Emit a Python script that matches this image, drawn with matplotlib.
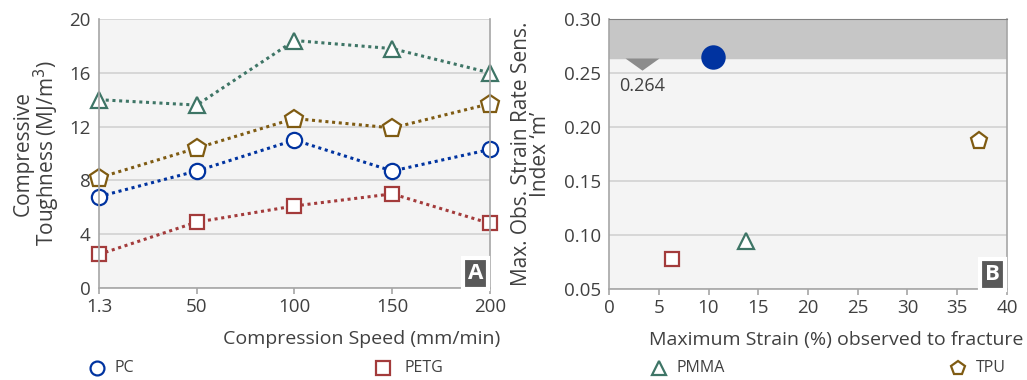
import matplotlib.pyplot as plt
from matplotlib.path import Path
from matplotlib.lines import Line2D

plt.rcParams["font.family"] = ["Open Sans", "DejaVu Sans"]

# panel A: compressive toughness vs. compression speed
speeds = ["1.3", "50", "100", "150", "200"]
pc_tough = [6.8, 8.7, 11.0, 8.7, 10.3]
petg_tough = [2.5, 4.9, 6.1, 7.0, 4.8]
pmma_tough = [14.0, 13.6, 18.4, 17.8, 16.0]
tpu_tough = [8.2, 10.4, 12.6, 11.9, 13.7]

# panel B: max strain vs. strain rate sensitivity index
strain = {"PC": 10.5, "PETG": 6.3, "PMMA": 13.8, "TPU": 37.2}
m_index = {"PC": 0.265, "PETG": 0.078, "PMMA": 0.094, "TPU": 0.187}
m_threshold = 0.264
threshold_x = 3.3

names = ["PC", "PETG", "PMMA", "TPU"]
colors = {"PC": "#0033A0", "PETG": "#A33B3B", "PMMA": "#3E7566", "TPU": "#7F5B12"}
markers = {"PC": "o", "PETG": "s", "PMMA": "^", "TPU": "p"}
sizes = {"PC": 11, "PETG": 10.5, "PMMA": 12, "TPU": 13.5}

TXT = "#404040"
BG = "#F4F4F4"
GRID = "#D4D4D4"
SPINE = "#A6A6A6"

fig = plt.figure(figsize=(10.27, 3.8), dpi=100)
ax1 = fig.add_axes([0.0964, 0.2421, 0.3807, 0.7079])
ax2 = fig.add_axes([0.593, 0.2395, 0.3875, 0.7105])


def style(ax):
    ax.set_facecolor(BG)
    ax.grid(axis="y", color=GRID, linewidth=1.3)
    ax.set_axisbelow(True)
    for side in ["left", "bottom", "right"]:
        ax.spines[side].set_color(SPINE)
        ax.spines[side].set_linewidth(1.2)
    ax.spines["top"].set_visible(False)
    ax.tick_params(colors=SPINE, labelcolor=TXT, labelsize=13.5, length=4, width=1.2)
    ax.tick_params(axis="y", length=0, pad=6)
    ax.tick_params(axis="x", direction="out", pad=3)


style(ax1)
x = list(range(len(speeds)))
for name, vals in zip(names, [pc_tough, petg_tough, pmma_tough, tpu_tough]):
    ax1.plot(x, vals, linestyle=(0, (1, 1.2)), linewidth=2.2, color=colors[name],
             marker=markers[name], markersize=sizes[name], markerfacecolor="white",
             markeredgecolor=colors[name], markeredgewidth=1.6, clip_on=False)
ax1.set_xlim(0, 4)
ax1.set_ylim(0, 20)
ax1.set_xticks(x)
ax1.set_xticklabels(speeds)
ax1.set_yticks([0, 4, 8, 12, 16, 20])
ax1.set_xlabel("Compression Speed (mm/min)", fontsize=14, color=TXT, ha="right")
ax1.xaxis.set_label_coords(1.026, -0.155)
ax1.set_ylabel("Compressive\nToughness (MJ/m$^3$)", fontsize=15, color=TXT, linespacing=0.92)
ax1.yaxis.set_label_coords(-0.095, 0.5)

style(ax2)
ax2.axhspan(m_threshold, 0.30, color="#C6C6C6", zorder=0.5)
ax2.spines["top"].set_visible(True)
ax2.spines["top"].set_color("#808080")
# wide flat triangle hanging below the band edge
wide_tri = Path([(-1.4, 0.0), (1.4, 0.0), (0.0, -1.0), (-1.4, 0.0)],
                [Path.MOVETO, Path.LINETO, Path.LINETO, Path.CLOSEPOLY])
ax2.scatter([threshold_x], [m_threshold], marker=wide_tri, s=600, color="#8C8C8C",
            linewidths=0, zorder=3)
ax2.text(threshold_x, m_threshold - 0.018, f"{m_threshold:.3f}", ha="center", va="top",
         fontsize=13, color=TXT)
for name in names:
    face = colors[name] if name == "PC" else "white"
    ax2.plot(strain[name], m_index[name], linestyle="none", marker=markers[name],
             markersize=16 if name == "PC" else sizes[name] - 1, markerfacecolor=face,
             markeredgecolor=colors[name], markeredgewidth=1.6, zorder=4)
ax2.set_xlim(0, 40)
ax2.set_ylim(0.05, 0.30)
ax2.set_xticks(range(0, 41, 5))
ax2.set_yticks([0.05, 0.10, 0.15, 0.20, 0.25, 0.30])
ax2.set_yticklabels([f"{v:.2f}" for v in [0.05, 0.10, 0.15, 0.20, 0.25, 0.30]])
ax2.set_xlabel("Maximum Strain (%) observed to fracture", fontsize=14, color=TXT, ha="right")
ax2.xaxis.set_label_coords(1.04, -0.155)
ax2.set_ylabel("Max. Obs. Strain Rate Sens.\nIndex \u2018m\u2019", fontsize=15, color=TXT,
               linespacing=0.92)
ax2.yaxis.set_label_coords(-0.145, 0.5)

# panel badges
for ax, letter in [(ax1, "A"), (ax2, "B")]:
    ax.text(0.982, 0.014, letter, transform=ax.transAxes, ha="right", va="bottom",
            fontsize=16, fontweight="bold", color="white", zorder=6,
            bbox=dict(boxstyle="square,pad=0.22", facecolor="#595959",
                      edgecolor="white", linewidth=3))

# legend row
leg_marker_x = [97, 383, 659, 958]
leg_text_x = [115, 404, 676, 976]
for name, mx, tx in zip(names, leg_marker_x, leg_text_x):
    fig.add_artist(Line2D([mx / 1027], [0.031], transform=fig.transFigure, linestyle="none",
                          marker=markers[name], markersize=10, markerfacecolor="white",
                          markeredgecolor=colors[name], markeredgewidth=1.6))
    fig.text(tx / 1027, 0.031, name, ha="left", va="center", fontsize=11.5, color=TXT)

fig.savefig("out.png", dpi=100)
